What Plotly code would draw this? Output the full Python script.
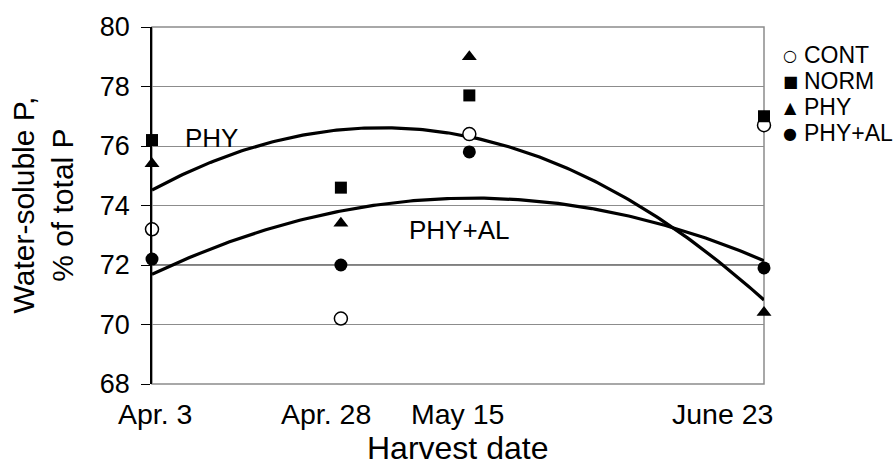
import numpy as np
import plotly.graph_objects as go

# ---- data ----
harvest_labels = ["Apr. 3", "Apr. 28", "May 15", "June 23"]
harvest_days = [0, 25, 42, 81]          # days after Apr. 3
cont = [73.2, 70.2, 76.4, 76.7]
norm = [76.2, 74.6, 77.7, 77.0]
phy = [75.4, 73.4, 79.0, 70.4]
phy_al = [72.2, 72.0, 75.8, 71.9]
y_ticks = [68, 70, 72, 74, 76, 78, 80]

FONT = "Liberation Sans, Arial, sans-serif"

fig = go.Figure()

# quadratic trendlines (least-squares, as in the original spreadsheet)
xd = np.linspace(harvest_days[0], harvest_days[-1], 200)
for vals in (phy, phy_al):
    c = np.polyfit(harvest_days, vals, 2)
    fig.add_trace(go.Scatter(x=xd, y=np.polyval(c, xd), mode="lines",
                             line=dict(color="black", width=3.2),
                             showlegend=False, hoverinfo="skip"))

series = [
    ("CONT", cont, dict(symbol="circle", size=13, color="white",
                        line=dict(color="black", width=1.5))),
    ("NORM", norm, dict(symbol="square", size=12, color="black")),
    ("PHY", phy, dict(symbol="triangle-up", size=13, color="black")),
    ("PHY+AL", phy_al, dict(symbol="circle", size=13, color="black")),
]
for name, vals, mk in series:
    fig.add_trace(go.Scatter(x=harvest_days, y=vals, mode="markers", name=name,
                             marker=mk, showlegend=False, cliponaxis=False))

# frame and the dark 72 reference line
fig.add_shape(type="rect", xref="paper", yref="paper", x0=0, x1=1, y0=0, y1=1,
              line=dict(color="#8c8c8c", width=1.5), layer="below")
fig.add_shape(type="line", xref="paper", yref="y", x0=0, x1=1, y0=72, y1=72,
              line=dict(color="black", width=1.2), layer="below")

ann = []
# x tick labels (text boxes in the original)
x_shifts = [3, -15, -12, -42]
for lab, d, s in zip(harvest_labels, harvest_days, x_shifts):
    ann.append(dict(x=d, y=0, xref="x", yref="paper", text=lab, showarrow=False,
                    xanchor="center", yanchor="middle", xshift=s, yshift=-30,
                    font=dict(size=28.5, color="black", family=FONT)))
# axis titles
ann.append(dict(x=0.5, y=0, xref="paper", yref="paper", text="Harvest date",
                showarrow=False, xanchor="center", yanchor="middle",
                xshift=-1, yshift=-64, font=dict(size=32, color="black", family=FONT)))
ann.append(dict(x=0, y=0.5, xref="paper", yref="paper",
                text="Water-soluble P,<br>% of total P", textangle=-90,
                showarrow=False, xanchor="center", yanchor="middle",
                xshift=-110, font=dict(size=30, color="black", family=FONT)))
# curve labels
ann.append(dict(x=0, y=1, xref="paper", yref="paper", text="PHY", showarrow=False,
                xanchor="left", yanchor="middle", xshift=31, yshift=-111,
                font=dict(size=26, color="black", family=FONT)))
ann.append(dict(x=0, y=1, xref="paper", yref="paper", text="PHY+AL", showarrow=False,
                xanchor="left", yanchor="middle", xshift=255, yshift=-203,
                font=dict(size=26, color="black", family=FONT)))
# legend (drawn as text)
leg_syms = ["○", "■", "▲", "●"]
leg_names = ["CONT", "NORM", "PHY", "PHY+AL"]
for i, (sym, nm) in enumerate(zip(leg_syms, leg_names)):
    ys = -28 - 26 * i
    ann.append(dict(x=1, y=1, xref="paper", yref="paper", text=sym, showarrow=False,
                    xanchor="center", yanchor="middle", xshift=26, yshift=ys,
                    font=dict(size=16, color="black", family="DejaVu Sans")))
    ann.append(dict(x=1, y=1, xref="paper", yref="paper", text=nm, showarrow=False,
                    xanchor="left", yanchor="middle", xshift=38, yshift=ys,
                    font=dict(size=23, color="black", family=FONT)))

fig.update_layout(
    width=895, height=466,
    margin=dict(l=152, r=131, t=24, b=82),
    paper_bgcolor="white", plot_bgcolor="white",
    showlegend=False,
    font=dict(family=FONT, color="black"),
    annotations=ann,
    xaxis=dict(range=[harvest_days[0], harvest_days[-1]], showgrid=False,
               zeroline=False, showticklabels=False, ticks="", showline=False,
               fixedrange=True),
    yaxis=dict(range=[68, 80], tickvals=y_ticks, showgrid=True,
               gridcolor="#8c8c8c", gridwidth=1.2, zeroline=False,
               showline=True, linecolor="black", linewidth=1.5,
               ticks="outside", ticklen=9, tickcolor="black", tickwidth=1.2,
               tickfont=dict(size=27, color="black", family=FONT),
               ticklabelstandoff=6, fixedrange=True),
)

fig.write_html("out.html")
